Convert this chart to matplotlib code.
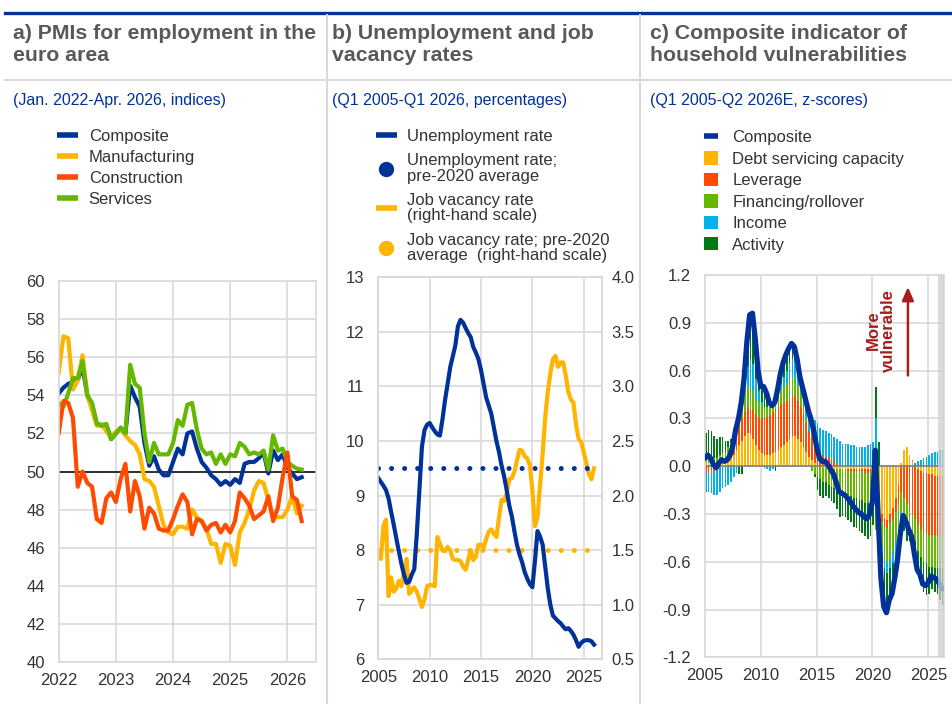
import matplotlib
matplotlib.use("Agg")
import matplotlib.pyplot as plt
from matplotlib.lines import Line2D
from matplotlib.patches import Patch
import numpy as np

plt.rcParams["font.family"] = ["Liberation Sans", "DejaVu Sans"]
plt.rcParams["axes.unicode_minus"] = False

BLUE = "#003299"
YELLOW = "#FFB400"
RED = "#FF4B00"
GREEN = "#65B800"
LBLUE = "#00B1EA"
DGREEN = "#007816"
GRID = "#D9D9D9"
TITLE_COL = "#595959"
TICK_COL = "#333333"
ARROW_RED = "#A51D1D"

# --- a) PMI employment, monthly Jan 2022 - Apr 2026
pmi_composite = [54.1, 54.4, 54.6, 54.7, 54.8, 55.5, 54.0, 53.5, 52.5, 52.4, 52.4, 51.7,
                 52.0, 52.3, 52.0, 54.5, 53.9, 53.4, 51.5, 50.3, 50.8, 50.1, 49.8, 49.8,
                 50.5, 51.2, 50.9, 52.0, 52.1, 51.2, 50.5, 50.2, 49.8, 49.6, 49.3, 49.5,
                 49.3, 49.6, 49.4, 50.4, 50.5, 50.5, 50.7, 51.0, 49.9, 51.1, 50.6, 50.9,
                 50.2, 49.9, 49.6, 49.7]
pmi_manufacturing = [55.2, 57.1, 57.0, 54.3, 54.8, 56.1, 54.0, 53.2, 52.4, 52.5, 52.1, 51.8,
                     52.1, 52.2, 51.9, 51.6, 51.4, 50.9, 49.6, 49.5, 49.2, 48.2, 47.2, 46.8,
                     46.7, 47.1, 47.1, 47.0, 48.0, 47.6, 47.4, 47.0, 46.2, 46.2, 45.2, 46.2,
                     46.1, 45.1, 46.8, 47.3, 48.0, 49.0, 49.5, 49.4, 48.5, 47.6, 47.6, 47.6,
                     48.0, 48.7, 47.8, 48.2]
pmi_construction = [52.0, 53.7, 53.6, 52.8, 49.2, 50.0, 49.4, 49.2, 47.5, 47.3, 48.6, 48.9,
                    48.4, 49.6, 50.4, 47.9, 49.5, 48.7, 47.0, 48.1, 47.8, 47.0, 46.9, 46.9,
                    47.5, 48.2, 48.8, 48.4, 46.7, 47.5, 47.4, 46.9, 47.2, 47.3, 46.8, 47.2,
                    46.8, 47.4, 48.9, 48.6, 48.2, 47.5, 47.7, 47.9, 48.7, 47.4, 48.1, 49.7,
                    51.0, 48.7, 48.5, 47.4]
pmi_services = [53.6, 53.4, 54.1, 54.9, 54.9, 55.8, 54.0, 53.6, 52.5, 52.4, 52.5, 51.7,
                52.0, 52.3, 52.0, 55.6, 54.6, 54.4, 52.0, 50.5, 51.5, 50.9, 50.9, 50.9,
                51.5, 52.7, 52.4, 53.5, 53.6, 52.2, 51.2, 50.9, 51.0, 50.4, 50.9, 50.4,
                50.9, 50.8, 51.5, 51.3, 50.9, 51.0, 50.9, 51.1, 50.1, 51.9, 51.1, 51.2,
                50.5, 50.3, 50.15, 50.1]
pmi_years = [2022, 2023, 2024, 2025, 2026]

# --- b) unemployment and job vacancy rates, quarterly Q1 2005 - Q1 2026
unemployment = [9.32, 9.25, 9.18, 9.10, 8.95, 8.70, 8.47, 8.22, 7.98, 7.75, 7.55, 7.40,
                7.42, 7.55, 7.65, 8.30, 9.10, 9.90, 10.20, 10.30, 10.33, 10.25, 10.18, 10.12,
                10.10, 10.40, 10.75, 11.05, 11.35, 11.55, 11.75, 12.10, 12.22, 12.17, 12.07, 11.98,
                11.90, 11.72, 11.62, 11.50, 11.30, 11.05, 10.80, 10.65, 10.50, 10.25, 10.00, 9.80,
                9.55, 9.35, 9.10, 8.82, 8.62, 8.35, 8.10, 7.92, 7.78, 7.60, 7.48, 7.38,
                7.32, 7.80, 8.35, 8.25, 8.10, 7.70, 7.30, 7.00, 6.80, 6.75, 6.70, 6.66,
                6.60, 6.55, 6.57, 6.52, 6.45, 6.35, 6.23, 6.30, 6.34, 6.35, 6.35, 6.33,
                6.27]
job_vacancy = [1.45, 1.42, 1.72, 1.78, 1.08, 1.25, 1.12, 1.15, 1.22, 1.17, 1.29, 1.42,
               1.10, 1.13, 1.16, 1.12, 1.05, 0.98, 1.05, 1.17, 1.18, 1.18, 1.17, 1.62,
               1.56, 1.50, 1.49, 1.53, 1.50, 1.42, 1.41, 1.41, 1.40, 1.35, 1.32, 1.41,
               1.50, 1.41, 1.44, 1.55, 1.55, 1.52, 1.60, 1.67, 1.69, 1.65, 1.62, 1.80,
               1.96, 1.95, 2.02, 2.15, 2.16, 2.22, 2.32, 2.42, 2.41, 2.36, 2.34, 2.28,
               2.05, 1.72, 1.80, 2.10, 2.38, 2.72, 2.95, 3.12, 3.25, 3.28, 3.18, 3.22,
               3.22, 3.10, 2.95, 2.88, 2.85, 2.65, 2.52, 2.49, 2.40, 2.30, 2.20, 2.15,
               2.25]
unemployment_avg = 9.5
job_vacancy_avg = 1.5
labour_years = [2005, 2010, 2015, 2020, 2025]

# --- c) household vulnerability indicator, quarterly Q1 2005 - Q2 2026
hh_composite = [0.05, 0.07, 0.05, 0.01, -0.01, 0.02, 0.04, 0.03, 0.04, 0.07, 0.13, 0.23,
                0.30, 0.40, 0.55, 0.78, 0.95, 0.96, 0.80, 0.60, 0.50, 0.50, 0.46, 0.40,
                0.38, 0.40, 0.48, 0.58, 0.65, 0.70, 0.74, 0.77, 0.75, 0.67, 0.56, 0.49,
                0.42, 0.35, 0.29, 0.22, 0.12, 0.05, 0.03, 0.03, 0.01, -0.02, -0.05, -0.10,
                -0.16, -0.17, -0.18, -0.20, -0.22, -0.25, -0.27, -0.29, -0.30, -0.32, -0.33, -0.30,
                -0.22, 0.10, -0.30, -0.70, -0.88, -0.92, -0.84, -0.80, -0.70, -0.58, -0.42, -0.31,
                -0.35, -0.40, -0.44, -0.55, -0.65, -0.68, -0.74, -0.75, -0.73, -0.69, -0.70, -0.71,
                -0.74, -0.77]
debt_servicing = [0.02, 0.02, 0.02, 0.01, 0.01, 0.02, 0.03, 0.03, 0.04, 0.05, 0.07, 0.10,
                  0.13, 0.16, 0.19, 0.21, 0.20, 0.17, 0.13, 0.10, 0.08, 0.07, 0.07, 0.07,
                  0.08, 0.09, 0.10, 0.12, 0.13, 0.15, 0.17, 0.19, 0.19, 0.17, 0.15, 0.12,
                  0.09, 0.06, 0.04, 0.02, 0.01, 0.00, -0.01, -0.01, -0.02, -0.02, -0.02, -0.02,
                  -0.02, -0.02, -0.02, -0.02, -0.02, -0.02, -0.02, -0.02, -0.02, -0.02, -0.02, -0.02,
                  -0.02, -0.10, -0.25, -0.30, -0.33, -0.34, -0.30, -0.26, -0.20, -0.12, 0.02, 0.10,
                  0.12, 0.07, 0.03, 0.00, -0.02, -0.03, -0.04, -0.04, -0.05, -0.05, -0.06, -0.06,
                  -0.06, -0.06]
leverage = [-0.04, -0.04, -0.03, -0.03, -0.02, -0.01, 0.00, 0.01, 0.02, 0.04, 0.06, 0.09,
            0.12, 0.14, 0.15, 0.16, 0.16, 0.18, 0.19, 0.21, 0.22, 0.23, 0.24, 0.25,
            0.26, 0.27, 0.27, 0.27, 0.27, 0.26, 0.26, 0.25, 0.25, 0.24, 0.22, 0.20,
            0.18, 0.16, 0.14, 0.12, 0.10, 0.08, 0.07, 0.06, 0.05, 0.04, 0.03, 0.02,
            0.01, 0.00, 0.00, -0.01, -0.01, -0.01, -0.01, -0.01, -0.01, -0.02, -0.02, -0.02,
            -0.03, -0.05, -0.05, -0.05, -0.05, -0.05, -0.06, -0.07, -0.09, -0.12, -0.16, -0.20,
            -0.24, -0.27, -0.30, -0.33, -0.35, -0.37, -0.38, -0.38, -0.38, -0.38, -0.38, -0.38,
            -0.38, -0.38]
financing = [0.05, 0.05, 0.05, 0.04, 0.04, 0.05, 0.05, 0.05, 0.06, 0.06, 0.07, 0.08,
             0.10, 0.11, 0.12, 0.13, 0.13, 0.12, 0.10, 0.09, 0.08, 0.07, 0.06, 0.06,
             0.06, 0.07, 0.08, 0.09, 0.10, 0.11, 0.12, 0.12, 0.11, 0.10, 0.08, 0.06,
             0.03, 0.00, -0.03, -0.05, -0.07, -0.08, -0.09, -0.09, -0.10, -0.11, -0.12, -0.13,
             -0.14, -0.15, -0.15, -0.16, -0.16, -0.17, -0.17, -0.18, -0.18, -0.19, -0.19, -0.19,
             -0.15, -0.25, -0.10, -0.15, -0.20, -0.22, -0.22, -0.20, -0.18, -0.15, -0.12, -0.10,
             -0.11, -0.12, -0.13, -0.14, -0.16, -0.17, -0.18, -0.19, -0.20, -0.20, -0.20, -0.20,
             -0.20, -0.20]
income = [-0.12, -0.12, -0.14, -0.15, -0.16, -0.15, -0.14, -0.13, -0.12, -0.10, -0.07, -0.04,
          0.00, 0.04, 0.08, 0.13, 0.18, 0.17, 0.13, 0.07, 0.02, -0.01, -0.02, -0.03,
          -0.02, 0.00, 0.02, 0.04, 0.06, 0.08, 0.10, 0.11, 0.11, 0.10, 0.09, 0.09,
          0.10, 0.12, 0.14, 0.15, 0.16, 0.16, 0.16, 0.16, 0.16, 0.16, 0.15, 0.15,
          0.15, 0.14, 0.14, 0.14, 0.13, 0.13, 0.12, 0.12, 0.12, 0.12, 0.13, 0.14,
          0.15, 0.30, -0.05, -0.05, -0.06, -0.06, -0.06, -0.08, -0.10, -0.10, -0.08, -0.04,
          -0.02, 0.00, 0.01, 0.02, 0.03, 0.04, 0.05, 0.06, 0.07, 0.08, 0.09, 0.09,
          0.10, 0.10]
activity = [0.14, 0.16, 0.15, 0.14, 0.12, 0.11, 0.10, 0.07, 0.04, 0.02, 0.00, 0.00,
            -0.05, -0.05, 0.01, 0.15, 0.28, 0.32, 0.25, 0.13, 0.10, 0.14, 0.11, 0.05,
            0.00, -0.03, 0.01, 0.06, 0.09, 0.10, 0.09, 0.10, 0.09, 0.06, 0.02, 0.02,
            0.02, 0.01, 0.00, -0.02, -0.08, -0.11, -0.10, -0.09, -0.08, -0.09, -0.09, -0.12,
            -0.16, -0.14, -0.15, -0.15, -0.16, -0.18, -0.19, -0.20, -0.21, -0.21, -0.23, -0.21,
            -0.17, 0.20, 0.15, -0.15, -0.24, -0.25, -0.20, -0.19, -0.13, -0.09, -0.08, -0.07,
            -0.10, -0.08, -0.05, -0.10, -0.15, -0.15, -0.19, -0.20, -0.17, -0.14, -0.15, -0.16,
            -0.20, -0.23]
hh_years = [2005, 2010, 2015, 2020, 2025]
estimate_start = 2025.9

W, H = 953, 711
fig = plt.figure(figsize=(W / 100, H / 100), dpi=100)


def fx(px):
    return px / W


def fy(py):
    return 1 - py / H


def style_axes(ax):
    ax.set_facecolor("white")
    for s in ax.spines.values():
        s.set_color(GRID)
        s.set_linewidth(1.2)
    ax.tick_params(length=0, labelsize=12, colors=TICK_COL)
    ax.tick_params(axis="y", pad=10)
    ax.tick_params(axis="x", pad=8)
    ax.grid(True, color=GRID, linewidth=1.2)
    ax.set_axisbelow(True)


# frame: top rule, header rule, panel separators
fig.add_artist(Line2D([fx(5), 1], [fy(13), fy(13)], color=BLUE, lw=2.4))
fig.add_artist(Line2D([fx(5), 1], [fy(80), fy(80)], color=GRID, lw=1.5))
for xs in (327, 640.5):
    fig.add_artist(Line2D([fx(xs), fx(xs)], [fy(15), fy(703)], color=GRID, lw=1.5))

titles = ["a) PMIs for employment in the\neuro area",
          "b) Unemployment and job\nvacancy rates",
          "c) Composite indicator of\nhousehold vulnerabilities"]
subtitles = ["(Jan. 2022-Apr. 2026, indices)",
             "(Q1 2005-Q1 2026, percentages)",
             "(Q1 2005-Q2 2026E, z-scores)"]
for x0, t, s in zip((13, 332, 650), titles, subtitles):
    fig.text(fx(x0), fy(24), t, fontsize=15.3, fontweight="bold", color=TITLE_COL,
             va="top", ha="left", linespacing=1.2)
    fig.text(fx(x0), fy(101), s, fontsize=11.5, color=BLUE, va="center", ha="left")

legend_kw = dict(loc="upper left", frameon=False, fontsize=12, borderpad=0,
                 borderaxespad=0, labelcolor=TICK_COL)

# ---------------- panel a
ax_a = fig.add_axes([fx(58.7), fy(662), fx(316 - 58.7), (662 - 281) / H])
style_axes(ax_a)
months = 2022 + np.arange(len(pmi_composite)) / 12
ax_a.axhline(50, color="black", lw=1.1, zorder=1.5)
for vals, col in [(pmi_composite, BLUE), (pmi_manufacturing, YELLOW),
                  (pmi_services, GREEN), (pmi_construction, RED)]:
    ax_a.plot(months, vals, color=col, lw=3.0, solid_joinstyle="round")
ax_a.set_xlim(2022, 2026.5)
ax_a.set_ylim(40, 60)
ax_a.set_xticks(pmi_years)
ax_a.set_yticks(range(40, 61, 2))

leg_a = [Line2D([], [], color=c, lw=4, solid_capstyle="butt") for c in (BLUE, YELLOW, RED, GREEN)]
fig.legend(leg_a, ["Composite", "Manufacturing", "Construction", "Services"],
           bbox_to_anchor=(fx(57), fy(129)), handlelength=1.25, handletextpad=0.65,
           labelspacing=0.36, **legend_kw)

# ---------------- panel b
ax_b = fig.add_axes([fx(378.3), fy(659.3), fx(601.7 - 378.3), (659.3 - 277.3) / H])
ax_b2 = ax_b.twinx()
style_axes(ax_b)
style_axes(ax_b2)
ax_b2.tick_params(axis="y", pad=7)
ax_b.grid(False)
ax_b2.grid(True, axis="y", color=GRID, linewidth=1.2)
for yr in labour_years:
    ax_b2.axvline(yr, color=GRID, lw=1.2, zorder=0)
ax_b.set_zorder(ax_b2.get_zorder() + 1)
ax_b.patch.set_visible(False)

quarters_b = 2005 + np.arange(len(unemployment)) / 4
dot = (0, (0.01, 2.6))
ax_b2.plot([quarters_b[0], quarters_b[-1]], [job_vacancy_avg] * 2, color=YELLOW,
           lw=3.6, linestyle=dot, dash_capstyle="round")
ax_b2.plot(quarters_b, job_vacancy, color=YELLOW, lw=3.0, solid_joinstyle="round")
ax_b.plot([quarters_b[0], quarters_b[-1]], [unemployment_avg] * 2, color=BLUE,
          lw=3.6, linestyle=dot, dash_capstyle="round")
ax_b.plot(quarters_b, unemployment, color=BLUE, lw=3.0, solid_joinstyle="round")
ax_b.set_xlim(2005, 2026.75)
ax_b.set_ylim(6, 13)
ax_b2.set_ylim(0.5, 4.0)
ax_b.set_xticks(labour_years)
ax_b.set_yticks(range(6, 14))
ax_b2.set_yticks(np.arange(0.5, 4.01, 0.5))
ax_b2.set_yticklabels([f"{v:.1f}" for v in np.arange(0.5, 4.01, 0.5)])

leg_b = [Line2D([], [], color=BLUE, lw=4, solid_capstyle="butt"),
         Line2D([], [], color=BLUE, lw=0, marker="o", markersize=10),
         Line2D([], [], color=YELLOW, lw=4, solid_capstyle="butt"),
         Line2D([], [], color=YELLOW, lw=0, marker="o", markersize=10)]
lb = fig.legend(leg_b, ["Unemployment rate", "Unemployment rate;\npre-2020 average",
                        "Job vacancy rate\n(right-hand scale)",
                        "Job vacancy rate; pre-2020\naverage  (right-hand scale)"],
                bbox_to_anchor=(fx(376), fy(129)), handlelength=1.25, handletextpad=0.6,
                labelspacing=0.56, **legend_kw)
for t in lb.get_texts():
    t.set_linespacing(1.03)

# ---------------- panel c
ax_c = fig.add_axes([fx(705), fy(657.3), fx(944.3 - 705), (657.3 - 275) / H])
style_axes(ax_c)
quarters_c = 2005 + np.arange(len(hh_composite)) / 4
pos_base = np.zeros(len(quarters_c))
neg_base = np.zeros(len(quarters_c))
for vals, col in [(debt_servicing, YELLOW), (leverage, RED), (financing, GREEN),
                  (income, LBLUE), (activity, DGREEN)]:
    v = np.array(vals)
    bottom = np.where(v >= 0, pos_base, neg_base)
    ax_c.bar(quarters_c, v, bottom=bottom, width=0.15, align="edge", color=col,
             linewidth=0, zorder=2)
    pos_base += np.where(v >= 0, v, 0)
    neg_base += np.where(v < 0, v, 0)
ax_c.axhline(0, color="#808080", lw=1.2, zorder=2.5)
ax_c.plot(quarters_c, hh_composite, color=BLUE, lw=3.8, solid_joinstyle="round",
          solid_capstyle="round", zorder=3)
ax_c.axvspan(estimate_start, 2026.6, color="#CFCFCF", alpha=0.75, lw=0, zorder=4)
ax_c.set_xlim(2005, 2026.43)
ax_c.set_ylim(-1.2, 1.2)
ax_c.set_xticks(hh_years)
yt = np.arange(-1.2, 1.21, 0.3)
ax_c.set_yticks(yt)
ax_c.set_yticklabels([f"{v:.1f}" if abs(v) > 1e-9 else "0.0" for v in yt])

ax_c.text(0.735, 0.855, "More\nvulnerable", transform=ax_c.transAxes, rotation=90,
          ha="center", va="center", fontsize=12, fontweight="bold", color=ARROW_RED,
          linespacing=1.0)
ax_c.annotate("", xy=(0.848, 0.976), xytext=(0.848, 0.73), xycoords="axes fraction",
              arrowprops=dict(arrowstyle="-|>,head_width=0.35,head_length=0.8",
                              color=ARROW_RED, lw=1.8))

leg_c = [Line2D([], [], color=BLUE, lw=4, solid_capstyle="butt")]
leg_c += [Patch(facecolor=c, edgecolor="none") for c in (YELLOW, RED, GREEN, LBLUE, DGREEN)]
fig.legend(leg_c, ["Composite", "Debt servicing capacity", "Leverage", "Financing/rollover",
                   "Income", "Activity"],
           bbox_to_anchor=(fx(704), fy(130)), handlelength=0.85, handleheight=0.85,
           handletextpad=0.85, labelspacing=0.36, **legend_kw)

fig.savefig("out.png", dpi=100)
